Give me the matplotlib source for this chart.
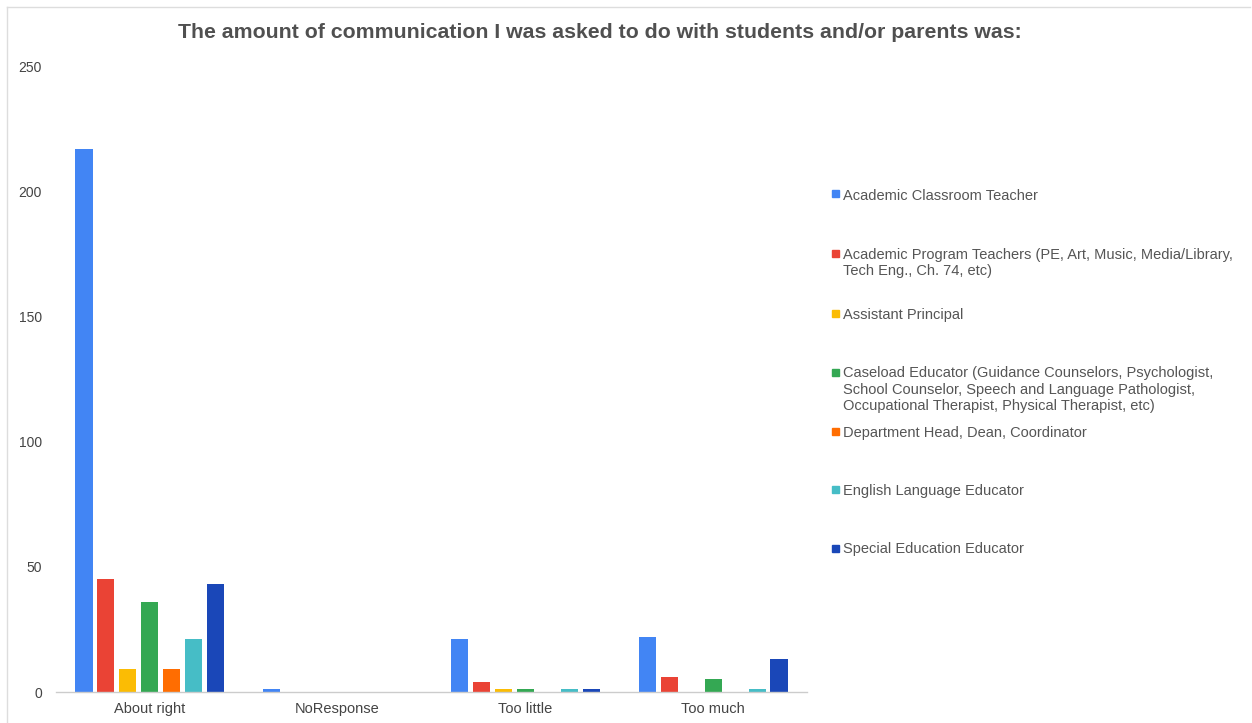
import matplotlib.pyplot as plt
import numpy as np
from matplotlib.patches import Rectangle
from matplotlib.lines import Line2D

plt.rcParams['font.family'] = ['Liberation Sans', 'DejaVu Sans']

# Survey responses per role
responses = ['About right', 'NoResponse', 'Too little', 'Too much']
roles = [
    'Academic Classroom Teacher',
    'Academic Program Teachers (PE, Art, Music, Media/Library,\nTech Eng., Ch. 74, etc)',
    'Assistant Principal',
    'Caseload Educator (Guidance Counselors, Psychologist,\nSchool Counselor, Speech and Language Pathologist,\nOccupational Therapist, Physical Therapist, etc)',
    'Department Head, Dean, Coordinator',
    'English Language Educator',
    'Special Education Educator',
]
counts = [
    [217, 1, 21, 22],   # Academic Classroom Teacher
    [45, 0, 4, 6],      # Academic Program Teachers
    [9, 0, 1, 0],       # Assistant Principal
    [36, 0, 1, 5],      # Caseload Educator
    [9, 0, 0, 0],       # Department Head, Dean, Coordinator
    [21, 0, 1, 1],      # English Language Educator
    [43, 0, 1, 13],     # Special Education Educator
]
colors = ['#4285F4', '#EA4335', '#FBBC04', '#34A853', '#FF6D01', '#46BDC6', '#1A47B8']
yticks = [0, 50, 100, 150, 200, 250]

W, H = 1252, 723
fig = plt.figure(figsize=(W / 100, H / 100), dpi=100)
ax = fig.add_axes([56 / W, 1 - 692 / H, (807 - 56) / W, (692 - 66) / H])

x = np.arange(len(responses))
step = 0.117
width = 0.091
for i, (vals, c) in enumerate(zip(counts, colors)):
    ax.bar(x + (i - 3) * step, vals, width=width, color=c, zorder=2)

ax.set_xlim(-0.5, len(responses) - 0.5)
ax.set_ylim(0, 250)
ax.set_xticks(x)
ax.set_xticklabels(responses, fontsize=10.5, color='#444444')
ax.set_yticks(yticks)
ax.set_yticklabels([str(v) for v in yticks], fontsize=10, color='#444444')
ax.tick_params(axis='x', length=0, pad=7)
ax.tick_params(axis='y', length=0, pad=10)
for side in ['top', 'right', 'left']:
    ax.spines[side].set_visible(False)
ax.spines['bottom'].set_color('#cccccc')
ax.spines['bottom'].set_linewidth(1)

fig.text(600 / W, 1 - 33 / H,
         'The amount of communication I was asked to do with students and/or parents was:',
         ha='center', va='center', fontsize=15.3, fontweight='bold', color='#505050')

# legend entries at a fixed vertical step, text hanging from the first line
leg_y = [194, 253, 313, 372, 431, 489, 548]
for label, c, yc in zip(roles, colors, leg_y):
    fig.add_artist(Rectangle(((832) / W, 1 - (yc + 3.5) / H), 7 / W, 7 / H,
                             transform=fig.transFigure, color=c))
    fig.text(843 / W, 1 - (yc - 5.5) / H, label, ha='left', va='top',
             fontsize=10.5, color='#555555', linespacing=1.22)

# light outer border on the left and top
fig.add_artist(Line2D([7 / W, 7 / W], [0, 1 - 7 / H], transform=fig.transFigure,
                      color='#dddddd', linewidth=1))
fig.add_artist(Line2D([7 / W, 1250 / W], [1 - 7 / H, 1 - 7 / H], transform=fig.transFigure,
                      color='#dddddd', linewidth=1))

fig.savefig('out.png', dpi=100, facecolor='white')
